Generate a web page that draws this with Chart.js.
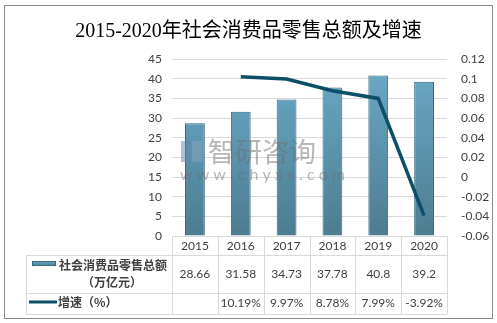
<!DOCTYPE html>
<html lang="zh">
<head>
  <meta charset="UTF-8">
  <title>2015-2020年社会消费品零售总额及增速</title>
  <script src="https://cdn.jsdelivr.net/npm/chart.js@4.4.0/dist/chart.umd.min.js"></script>
  <style>
    body { margin: 0; padding: 0; background: #fff; }
  </style>
</head>
<body>
  <canvas id="chart" width="497" height="323"></canvas>
  <script>
    // data
    const years = ['2015', '2016', '2017', '2018', '2019', '2020'];
    const retailTotal = [28.66, 31.58, 34.73, 37.78, 40.8, 39.2];   // 万亿元
    const growthRate = [null, 0.1019, 0.0997, 0.0878, 0.0799, -0.0392];
    const barName = ['社会消费品零售总额', '（万亿元）'];
    const lineName = '增速（%）';

    const numFont = "Lato, 'Noto Sans CJK SC', sans-serif";
    const cjkFont = "'Noto Sans CJK SC', sans-serif";
    const textColor = '#404040';
    const gridColor = '#d9d9d9';

    function barGradient(ctx, top, bottom) {
      const g = ctx.createLinearGradient(0, top, 0, bottom);
      g.addColorStop(0, '#6babc9');
      g.addColorStop(1, '#4d7c90');
      return g;
    }

    // draws the data table under the x axis, the watermark and the frame
    const tablePlugin = {
      id: 'table',
      afterDraw(chart) {
        const ctx = chart.ctx;
        const area = chart.chartArea;
        const x = chart.scales.x;
        const half = (area.right - area.left) / years.length / 2;
        const y0 = area.bottom, y1 = 255, y2 = 293, y3 = 314;
        const tableLeft = 26;
        ctx.save();

        // grid
        ctx.strokeStyle = gridColor;
        ctx.lineWidth = 1;
        ctx.beginPath();
        years.forEach((y, i) => {
          const cx = Math.round(x.getPixelForValue(i) - half) + 0.5;
          ctx.moveTo(cx, y0); ctx.lineTo(cx, y3);
        });
        const rx = Math.round(x.getPixelForValue(years.length - 1) + half) + 0.5;
        ctx.moveTo(rx, y0); ctx.lineTo(rx, y3);
        ctx.moveTo(tableLeft + 0.5, y1); ctx.lineTo(tableLeft + 0.5, y3);
        [y1, y2, y3].forEach(yy => {
          ctx.moveTo(tableLeft, yy + 0.5); ctx.lineTo(rx, yy + 0.5);
        });
        ctx.stroke();

        // values
        ctx.fillStyle = textColor;
        ctx.textAlign = 'center';
        ctx.textBaseline = 'middle';
        ctx.font = '12px ' + numFont;
        years.forEach((y, i) => {
          const cx = x.getPixelForValue(i);
          ctx.fillText(String(retailTotal[i]), cx, 274);
          if (growthRate[i] !== null) {
            ctx.fillText((growthRate[i] * 100).toFixed(2) + '%', cx, 303);
          }
        });

        // row headers
        ctx.fillStyle = barGradient(ctx, 261, 266);
        ctx.fillRect(32, 261, 24, 5);
        ctx.strokeStyle = '#3a6a80';
        ctx.strokeRect(32.5, 261.5, 23, 4);
        ctx.fillStyle = textColor;
        ctx.font = 'bold 12px ' + cjkFont;
        ctx.fillText(barName[0], 113, 265);
        ctx.fillText(barName[1], 112, 282);

        ctx.strokeStyle = '#0d4f69';
        ctx.lineWidth = 3;
        ctx.beginPath();
        ctx.moveTo(29, 302); ctx.lineTo(57, 302);
        ctx.stroke();
        ctx.textAlign = 'left';
        ctx.fillText(lineName, 58, 302);

        // watermark
        ctx.globalAlpha = 0.5;
        ctx.fillStyle = '#5f86b0';
        ctx.fillRect(181, 141, 10, 21);
        ctx.fillStyle = '#8da4bd';
        ctx.fillRect(192, 141, 10, 21);
        ctx.fillStyle = '#707070';
        ctx.font = '27px ' + cjkFont;
        ctx.textAlign = 'left';
        ctx.fillText('智研咨询', 208, 152);
        ctx.font = '16px ' + numFont;
        ctx.fillText('w w w . c h y x x . c o m', 180, 175);
        ctx.globalAlpha = 1;

        // frame
        ctx.strokeStyle = '#8c8c8c';
        ctx.lineWidth = 1;
        ctx.strokeRect(4.5, 5.5, 488, 313);
        ctx.restore();
      }
    };

    new Chart(document.getElementById('chart'), {
      data: {
        labels: years,
        datasets: [
          {
            type: 'line',
            label: lineName,
            data: growthRate,
            yAxisID: 'y1',
            borderColor: '#0d4f69',
            borderWidth: 3.5,
            pointRadius: 0,
            tension: 0,
            order: 0
          },
          {
            type: 'bar',
            label: barName.join(''),
            data: retailTotal,
            yAxisID: 'y',
            backgroundColor: (c) => {
              const a = c.chart.chartArea;
              if (!a) return '#5d96b0';
              return barGradient(c.chart.ctx, a.top, a.bottom);
            },
            borderColor: '#33657c',
            borderWidth: 1,
            barPercentage: 0.6,
            categoryPercentage: 0.72,
            order: 1
          }
        ]
      },
      options: {
        responsive: false,
        animation: false,
        devicePixelRatio: 1,
        layout: { padding: { top: 0, left: 0, right: 0, bottom: 68 } },
        plugins: {
          legend: { display: false },
          tooltip: { enabled: false },
          title: {
            display: true,
            text: '2015-2020年社会消费品零售总额及增速',
            color: '#000',
            font: { size: 20, family: "'Liberation Serif', 'Noto Sans CJK SC', serif", weight: 'normal' },
            padding: { top: 20, bottom: 15 }
          }
        },
        scales: {
          x: {
            afterFit: (s) => { s.height = 19; },
            grid: { display: false, drawTicks: false },
            border: { display: true, color: gridColor },
            ticks: { color: textColor, font: { size: 12, family: numFont }, padding: 3 }
          },
          y: {
            position: 'left',
            min: 0,
            max: 45,
            afterFit: (s) => { s.width = 172; },
            grid: { color: gridColor, drawTicks: false },
            border: { display: false },
            ticks: { stepSize: 5, color: textColor, font: { size: 12, family: numFont }, padding: 10 }
          },
          y1: {
            position: 'right',
            min: -0.06,
            max: 0.12,
            afterFit: (s) => { s.width = 50; },
            grid: { drawOnChartArea: false, drawTicks: false },
            border: { display: false },
            ticks: {
              stepSize: 0.02,
              color: textColor,
              font: { size: 12, family: numFont },
              padding: 14,
              callback: (v) => String(Number(v.toFixed(2)))
            }
          }
        }
      },
      plugins: [tablePlugin]
    });
  </script>
</body>
</html>
